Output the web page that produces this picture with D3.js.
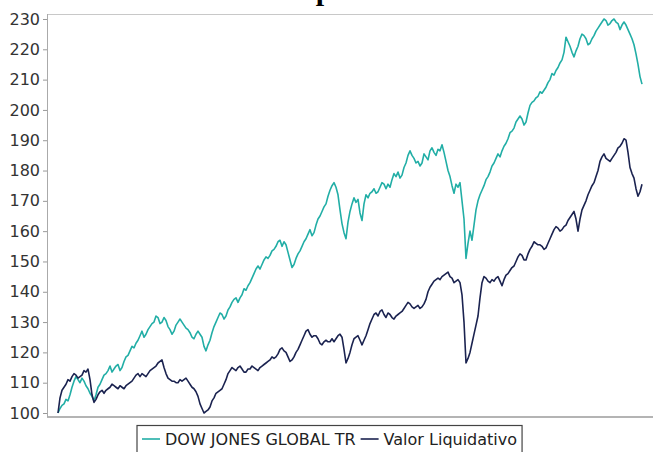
<!DOCTYPE html>
<html>
<head>
<meta charset="utf-8">
<script src="https://cdn.jsdelivr.net/npm/d3@7"></script>
<style>
  body { margin: 0; background: #fff; }
  svg { display: block; font-family: "DejaVu Sans", sans-serif; }
</style>
</head>
<body>
<svg id="chart" width="653" height="452"></svg>
<script>
// samples, evenly spaced in time
const dowJones = [
  100, 101.5, 102.5, 103, 104.5, 104, 106, 108.5, 110.5, 112,
  111, 110, 111.5, 110.5, 109, 108, 106.5, 105.5, 104, 106,
  108.5, 109.5, 111, 112.5, 113, 114, 115.5, 113.5, 114.5, 115.5,
  116, 114, 115, 117, 118.5, 119, 120.5, 122, 121.5, 123,
  124, 125.5, 127, 125, 126, 127.5, 128.5, 129.5, 130, 132,
  131.5, 129.5, 130, 131.5, 130.5, 128.5, 127.5, 126, 127, 129,
  130, 131, 130, 129, 128, 127.5, 126.5, 125, 124.5, 126,
  127, 126, 125, 122, 120.5, 122.5, 124, 126.5, 128.5, 130,
  131.5, 133, 132.5, 131, 132, 134, 135, 136.5, 137.5, 138,
  136.5, 138, 139, 141, 140.5, 142, 143, 144.5, 146, 147.5,
  148.5, 147.5, 149, 150.5, 151.5, 151, 152, 153.5, 154, 155,
  156.5, 157, 155, 156.5, 155.5, 153, 150.5, 148, 149, 151,
  152.5, 153.5, 155, 156.5, 157.5, 159, 160.5, 158.5, 159.5, 162,
  164, 165, 166.5, 168, 169, 171.5, 173.5, 175, 176, 174.5,
  172, 167, 162.5, 159.5, 157.5, 163, 166.5, 169, 171, 169.5,
  170.5, 166, 163.5, 169, 172, 171, 172.5, 173, 174, 172.5,
  173, 174.5, 176, 175.5, 174, 175.5, 174.5, 177, 179, 178,
  179.5, 177.5, 178.5, 181, 182.5, 185, 186.5, 185, 184, 182.5,
  183, 181.5, 182.5, 185.5, 184.5, 183.5, 186.5, 187.5, 186, 185,
  187, 186.5, 188.5, 186, 183, 180, 178, 175, 172.5, 175.5,
  174.5, 176, 170, 164, 151, 156, 160, 157, 162, 167,
  170, 172, 173.5, 175, 177, 178, 179.5, 181.5, 182.5, 184,
  185.5, 184.5, 186.5, 188, 189, 190.5, 192.5, 193, 194, 196,
  197, 198, 197, 195, 196, 199, 201.5, 202.5, 203, 204,
  204.5, 206, 205.5, 206.5, 207.5, 209, 210, 212, 211.5, 213,
  214, 215.5, 216.5, 219, 224, 222.5, 221, 219, 217.5, 219.5,
  221, 223.5, 225, 224.5, 223.5, 221.5, 222, 223.5, 224.5, 226,
  227, 228, 229, 230, 229.5, 228, 228.5, 229.5, 230, 229,
  228.5, 226.5, 228, 229, 228, 226.5, 225, 223.5, 221.5, 218.5,
  215, 211, 208.5
];
const valorLiq = [
  100, 105, 107.5, 108.5, 109.5, 111, 110.5, 112, 113, 112.5,
  111.5, 112, 112.5, 114, 113.5, 114.5, 111, 106, 103.5, 104.5,
  106, 107, 107.5, 106.5, 107.5, 108, 108.5, 109.5, 109, 108.5,
  108, 109, 108.5, 108, 109, 109.5, 110, 110.5, 111.5, 112.5,
  113, 112, 113, 112.5, 112, 113, 114, 114.5, 115, 115.5,
  116.5, 117, 117.5, 115, 113, 111.5, 111, 110.5, 110.5, 110,
  110, 111, 110.5, 111, 111.5, 110.5, 109.5, 108.5, 108, 107,
  105.5, 103, 101.5, 100, 100.5, 101, 102, 104, 105, 106.5,
  107, 107.5, 108, 109.5, 111, 113, 114, 115, 114.5, 114,
  115, 115.5, 114.5, 113.5, 113.5, 114.5, 114.5, 115.5, 115, 114.5,
  114, 115, 115.5, 116, 116.5, 117, 117.5, 118.5, 118, 118.5,
  119.5, 121, 121.5, 120.5, 120, 118.5, 117, 117.5, 118.5, 120,
  121, 122.5, 124, 125.5, 127, 127.5, 126, 125, 125.5, 125.5,
  124.5, 123, 122.5, 123.5, 124, 123.5, 123.5, 124.5, 123.5, 124.5,
  125.5, 126, 125, 121, 116.5, 118, 120, 122.5, 124.5, 125,
  125.5, 124, 122.5, 124, 125.5, 127.5, 129.5, 131, 132.5, 133,
  132, 133.5, 134, 132.5, 131.5, 133, 132.5, 131.5, 131, 132,
  132.5, 133, 133.5, 134.5, 135.5, 136.5, 136, 135, 134.5, 135,
  135.5, 134.5, 135, 136, 137.5, 140, 141.5, 142.5, 143.5, 144,
  144.5, 144, 145, 145.5, 146, 146.5, 145, 144.5, 143, 143.5,
  144, 143, 139, 130, 116.5, 118, 120, 123, 126, 129,
  132, 138, 143, 145, 144.5, 143.5, 143, 144, 143.5, 144.5,
  145, 143.5, 142, 144, 145.5, 146, 147, 148, 148.5, 150,
  151.5, 152.5, 152, 150.5, 150.5, 152.5, 154, 155, 156.5, 156,
  155.5, 155.5, 155, 154, 154.5, 156, 157.5, 159, 160.5, 161.5,
  161, 160, 160.5, 161.5, 162, 163.5, 164.5, 165.5, 166.5, 164,
  160, 164, 167, 168.5, 170, 172, 173.5, 175, 176, 178,
  180, 183, 184.5, 185.5, 184, 183.5, 183, 184, 185, 186,
  187.5, 188, 189, 190.5, 190, 186, 181, 179, 177.5, 174,
  171.5, 173, 175.5
];
const seriesNames = ["DOW JONES GLOBAL TR", "Valor Liquidativo"];
const seriesColors = ["#22aea6", "#1b2350"];
const yTicks = [100, 110, 120, 130, 140, 150, 160, 170, 180, 190, 200, 210, 220, 230];
const titleText = "Comparativa";

const svg = d3.select("#chart");
const plot = { left: 47, top: 14, right: 660, bottom: 417 };

const x = d3.scaleLinear().domain([0, dowJones.length - 1]).range([58, 642]);
const y = d3.scaleLinear().domain([100, 230]).range([413, 19]);

// title sits above the frame, only its descender shows
svg.append("text")
  .attr("x", 254).attr("y", 0)
  .attr("font-family", "Liberation Serif, serif")
  .attr("font-weight", "bold")
  .attr("font-size", 30)
  .attr("fill", "#000")
  .text(titleText);

// plot frame
svg.append("line")
  .attr("x1", plot.left).attr("x2", plot.right)
  .attr("y1", plot.top + 0.5).attr("y2", plot.top + 0.5)
  .attr("stroke", "#c8c8c8");
svg.append("line")
  .attr("x1", plot.left).attr("x2", plot.right)
  .attr("y1", plot.bottom).attr("y2", plot.bottom)
  .attr("stroke", "#b4b4b4").attr("stroke-width", 2);

const yAxis = svg.append("g")
  .attr("transform", `translate(${plot.left},0)`)
  .call(d3.axisLeft(y).tickValues(yTicks).tickSize(4).tickPadding(3));
yAxis.select(".domain").remove();
yAxis.selectAll(".tick line").attr("stroke", "#999");
yAxis.selectAll(".tick text")
  .attr("font-family", "DejaVu Sans, sans-serif")
  .attr("font-size", 16)
  .attr("fill", "#333");
svg.append("line")
  .attr("x1", plot.left + 0.5).attr("x2", plot.left + 0.5)
  .attr("y1", plot.top).attr("y2", plot.bottom)
  .attr("stroke", "#aaa");

const line = d3.line()
  .x((d, i) => x(i))
  .y(d => y(d));

[dowJones, valorLiq].forEach((vals, k) => {
  svg.append("path")
    .datum(vals)
    .attr("fill", "none")
    .attr("stroke", seriesColors[k])
    .attr("stroke-width", 1.6)
    .attr("stroke-linejoin", "round")
    .attr("d", line);
});

// legend
const legend = svg.append("g");
const box = legend.append("rect")
  .attr("fill", "#fff").attr("stroke", "#444").attr("stroke-width", 1.2);
let cx = 142;
seriesNames.forEach((name, k) => {
  legend.append("line")
    .attr("x1", cx).attr("x2", cx + 18)
    .attr("y1", 439).attr("y2", 439)
    .attr("stroke", seriesColors[k]).attr("stroke-width", 1.6);
  const t = legend.append("text")
    .attr("x", cx + 23).attr("y", 445)
    .attr("font-size", 16).attr("fill", "#222")
    .text(name);
  cx += 23 + t.node().getComputedTextLength() + 5;
});
box.attr("x", 137).attr("y", 425.5).attr("width", cx - 137).attr("height", 40);
</script>
</body>
</html>
